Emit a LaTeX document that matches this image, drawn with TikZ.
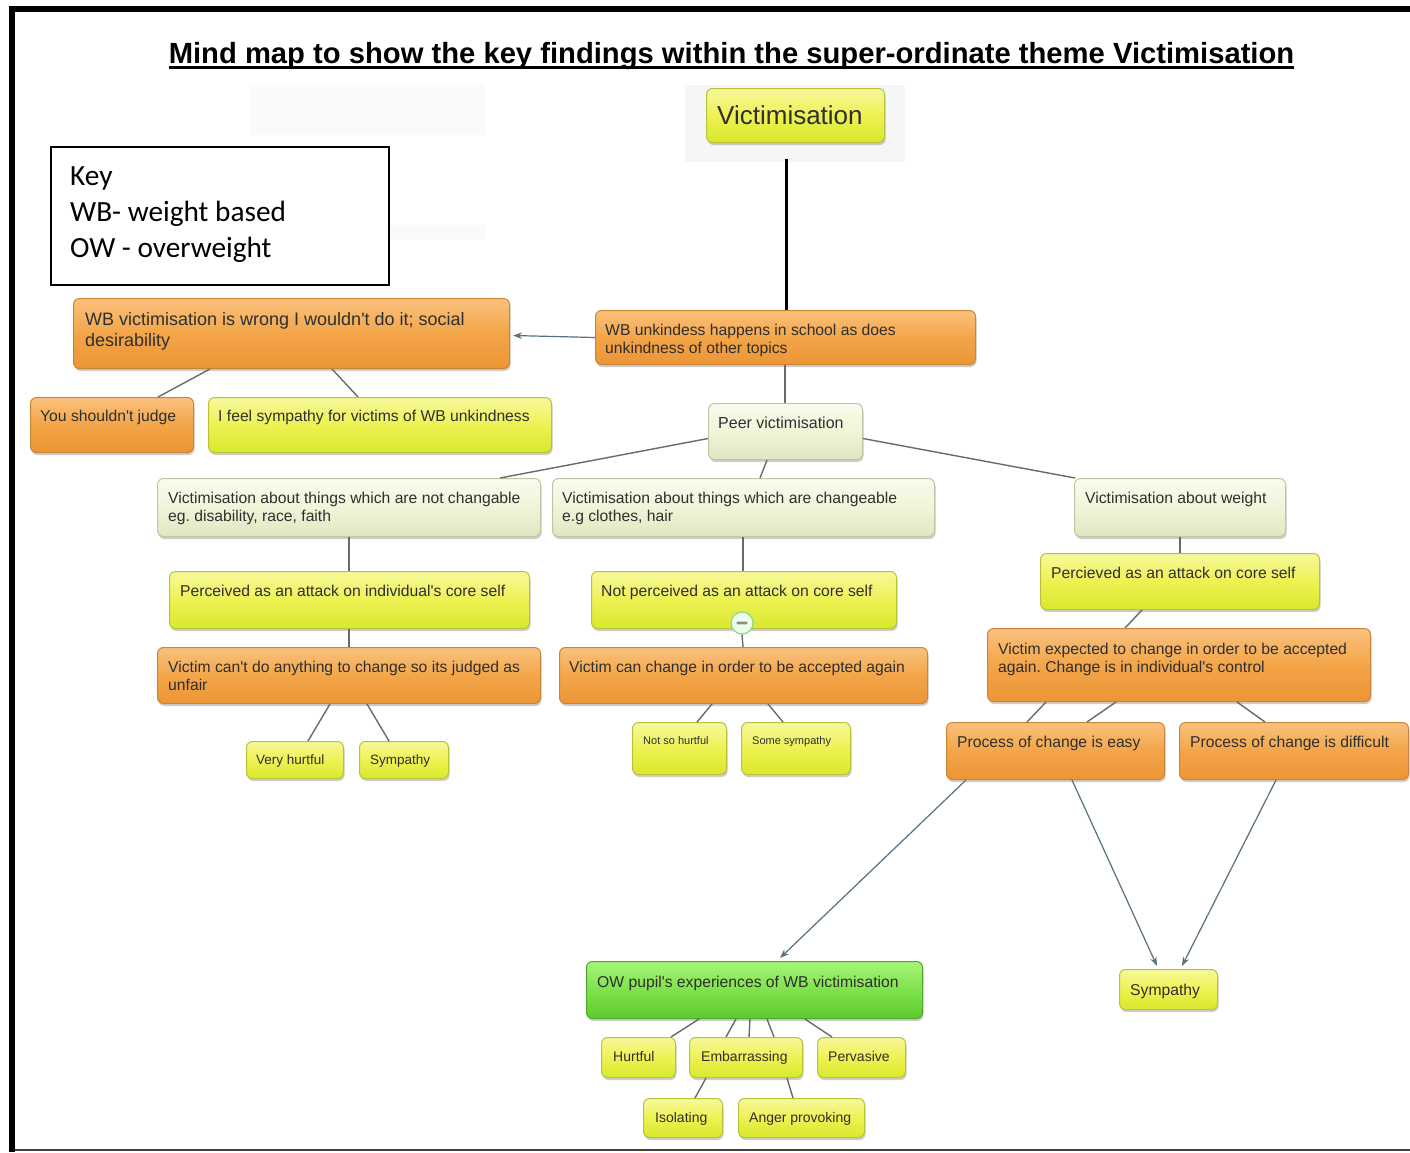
\documentclass[tikz,border=0pt]{standalone}
\usepackage{fontspec}
\setmainfont{Liberation Sans}
\newfontfamily\keyfont{Carlito}
\usetikzlibrary{arrows.meta,shadows}
\frenchspacing

% text sizes used in the boxes
\newcommand\mmfont{\fontsize{15.7}{18}\selectfont}
\newcommand\mmbig{\fontsize{26}{30}\selectfont}
\newcommand\mmlarge{\fontsize{18}{21}\selectfont}
\newcommand\mmsmall{\fontsize{13.5}{16}\selectfont}
\newcommand\mmtiny{\fontsize{11}{13}\selectfont}
\newcommand\mmleaf{\fontsize{14}{16}\selectfont}
\newcommand\ap{\textquotesingle}

\definecolor{textgrey}{HTML}{2F2F2F}
\definecolor{linkgrey}{HTML}{6A6A6A}
\definecolor{arrowblue}{HTML}{56707F}
\definecolor{orTop}{HTML}{FAC27E}
\definecolor{orMid}{HTML}{F3A548}
\definecolor{orBot}{HTML}{EC9536}
\definecolor{orLine}{HTML}{CC8436}
\definecolor{yeTop}{HTML}{F7F89C}
\definecolor{yeMid}{HTML}{EDF252}
\definecolor{yeBot}{HTML}{D8E82C}
\definecolor{yeLine}{HTML}{B8C23A}
\definecolor{paTop}{HTML}{FAFBEE}
\definecolor{paMid}{HTML}{F1F4D8}
\definecolor{paBot}{HTML}{E1E6C0}
\definecolor{paLine}{HTML}{C0C6A2}
\definecolor{grTop}{HTML}{A8F47A}
\definecolor{grMid}{HTML}{7EE24A}
\definecolor{grBot}{HTML}{5CCB2C}
\definecolor{grLine}{HTML}{4FA82A}

\tikzset{
  boxbase/.style={draw, rounded corners=6pt, line width=1pt, inner sep=0pt,
    drop shadow={shadow xshift=1pt, shadow yshift=-2.5pt, opacity=0.28, fill=black!70}},
  orangebox/.style={boxbase, draw=orLine, top color=orTop, bottom color=orBot, middle color=orMid},
  yellowbox/.style={boxbase, draw=yeLine, top color=yeTop, bottom color=yeBot, middle color=yeMid},
  palebox/.style={boxbase, draw=paLine, top color=paTop, bottom color=paBot, middle color=paMid},
  greenbox/.style={boxbase, draw=grLine, top color=grTop, bottom color=grBot, middle color=grMid},
  mmtext/.style={inner sep=0pt, align=left, text=textgrey, font=\mmfont},
  link/.style={draw=linkgrey, line width=1.4pt},
  arrowlink/.style={draw=arrowblue, line width=1.2pt, -{Stealth[length=9pt,width=6.5pt]}},
}

% #1 box style, #2 name, #3 x, #4 y (top left), #5 width, #6 height,
% #7 options of the text node, #8 text
\newcommand\mmbox[8]{%
  \node[#1, anchor=north west, minimum width=#5pt, minimum height=#6pt] (#2) at (#3,#4) {};
  \node[mmtext, anchor=north west, #7] (#2-t) at (#2.north west) {#8};
}

\begin{document}
\begin{tikzpicture}[x=1pt,y=-1pt]
\useasboundingbox (0,0) rectangle (1410,1152);
\fill[white] (0,0) rectangle (1410,1152);

% page frame
\fill[black] (9,6) rectangle (1410,12);
\fill[black] (9,6) rectangle (15,1152);
\fill[black!75] (15,1149) rectangle (1410,1151);

% faint backing patches
\fill[black!2] (250,85) rectangle (485,135);
\fill[black!2] (390,225) rectangle (485,240);
\fill[black!3.5] (685,85) rectangle (905,162);

% title
\node[inner sep=0pt, anchor=base, font=\bfseries\fontsize{29.2}{34}\selectfont] (title) at (731.5,63)
  {Mind map to show the key findings within the super-ordinate theme Victimisation};
\draw[line width=2.8pt] ([yshift=-4.3pt]title.base west) -- ([yshift=-4.3pt]title.base east);

% key
\node[draw=black, line width=2pt, anchor=north west, minimum width=338pt, minimum height=138pt, inner sep=0pt] (key) at (50,146) {};
\node[inner sep=0pt, anchor=north west, align=left, font=\keyfont\fontsize{29.3}{36}\selectfont] (key-t) at (70,166.5)
  {Key\\WB- weight based\\OW - overweight};

% boxes
\mmbox{yellowbox}{vict}{706}{88}{178}{54}{xshift=11pt,yshift=-17.4pt,font=\mmbig}{Victimisation}
\mmbox{orangebox}{wbunk}{595}{310}{380}{54}{xshift=10pt,yshift=-14.3pt}{WB unkindess happens in school as does\\unkindness of other topics}
\mmbox{orangebox}{wbvic}{73}{298}{436}{70}{xshift=12pt,yshift=-14.3pt,font=\mmlarge}{WB victimisation is wrong I wouldn\ap t do it; social\\desirability}
\mmbox{orangebox}{judge}{30}{397}{163}{55}{xshift=10pt,yshift=-13.3pt}{You shouldn\ap t judge}
\mmbox{yellowbox}{feel}{208}{397}{343}{55}{xshift=10pt,yshift=-13.3pt}{I feel sympathy for victims of WB unkindness}
\mmbox{palebox}{peer}{708}{403}{154}{56}{xshift=10pt,yshift=-14pt,font=\fontsize{16}{18}\selectfont}{Peer victimisation}
\mmbox{palebox}{notch}{157}{478}{383}{58}{xshift=11pt,yshift=-14.3pt}{Victimisation about things which are not changable\\eg. disability, race, faith}
\mmbox{palebox}{chg}{552}{478}{382}{58}{xshift=10pt,yshift=-14.3pt}{Victimisation about things which are changeable\\e.g clothes, hair}
\mmbox{palebox}{weight}{1074}{478}{211}{58}{xshift=11pt,yshift=-14.3pt}{Victimisation about weight}
\mmbox{yellowbox}{attind}{169}{571}{360}{57}{xshift=11pt,yshift=-14.3pt}{Perceived as an attack on individual\ap s core self}
\mmbox{yellowbox}{notatt}{591}{571}{305}{57}{xshift=10pt,yshift=-14.3pt}{Not perceived as an attack on core self}
\mmbox{yellowbox}{attcore}{1040}{553}{279}{56}{xshift=11pt,yshift=-14.3pt}{Percieved as an attack on core self}
\mmbox{orangebox}{cant}{157}{647}{383}{56}{xshift=11pt,yshift=-14.3pt}{Victim can\ap t do anything to change so its judged as\\unfair}
\mmbox{orangebox}{can}{559}{647}{368}{56}{xshift=10pt,yshift=-14.3pt}{Victim can change in order to be accepted again}
\mmbox{orangebox}{expect}{987}{628}{383}{73}{xshift=11pt,yshift=-15.3pt}{Victim expected to change in order to be accepted\\again. Change is in individual\ap s control}
\mmbox{yellowbox}{veryh}{246}{741}{97}{37}{xshift=10pt,yshift=-14pt,font=\mmsmall}{Very hurtful}
\mmbox{yellowbox}{symp1}{359}{741}{89}{37}{xshift=11pt,yshift=-14pt,font=\mmsmall}{Sympathy}
\mmbox{yellowbox}{notso}{632}{722}{94}{52}{xshift=11pt,yshift=-14pt,font=\mmtiny}{Not so hurtful}
\mmbox{yellowbox}{somes}{741}{722}{109}{52}{xshift=11pt,yshift=-14pt,font=\mmtiny}{Some sympathy}
\mmbox{orangebox}{easy}{946}{722}{218}{57}{xshift=11pt,yshift=-14.3pt}{Process of change is easy}
\mmbox{orangebox}{diff}{1179}{722}{229}{57}{xshift=11pt,yshift=-14.3pt}{Process of change is difficult}
\mmbox{greenbox}{ow}{586}{961}{336}{57}{xshift=11pt,yshift=-15.3pt}{OW pupil\ap s experiences of WB victimisation}
\mmbox{yellowbox}{symp2}{1119}{969}{98}{40}{xshift=11pt,yshift=-15.3pt}{Sympathy}
\mmbox{yellowbox}{hurtful}{601}{1037}{74}{40}{xshift=12pt,yshift=-13.8pt,font=\mmleaf}{Hurtful}
\mmbox{yellowbox}{embar}{689}{1037}{113}{40}{xshift=12pt,yshift=-13.8pt,font=\mmleaf}{Embarrassing}
\mmbox{yellowbox}{perv}{817}{1037}{88}{40}{xshift=11pt,yshift=-13.8pt,font=\mmleaf}{Pervasive}
\mmbox{yellowbox}{isol}{643}{1098}{79}{39}{xshift=12pt,yshift=-13.8pt,font=\mmleaf}{Isolating}
\mmbox{yellowbox}{anger}{738}{1098}{126}{39}{xshift=11pt,yshift=-13.8pt,font=\mmleaf}{Anger provoking}

% fold marker on the lower edge of the box above
\node[circle, draw=green!45!gray!60, fill=white!92!green, line width=1.2pt, minimum size=22pt, inner sep=0pt]
  (fold) at ([xshift=151pt,yshift=6pt]notatt.south west) {};
\fill[black!45, rounded corners=1pt] ([xshift=-5.5pt,yshift=-1.4pt]fold.center) rectangle ([xshift=5.5pt,yshift=1.4pt]fold.center);

% connectors
\draw[line width=3pt, black] ([xshift=80pt,yshift=-16pt]vict.south west) -- ([xshift=191pt]wbunk.north west);
\draw[arrowlink] (wbunk.west) -- ([xshift=3pt,yshift=-2pt]wbvic.east);
\draw[link] ([xshift=137pt]wbvic.south west) -- ([xshift=128pt]judge.north west);
\draw[link] ([xshift=259pt]wbvic.south west) -- ([xshift=150pt]feel.north west);
\draw[link] ([xshift=190pt]wbunk.south west) -- ([xshift=77pt]peer.north west);
\draw[link] ([yshift=-7pt]peer.west) -- ([xshift=343pt]notch.north west);
\draw[link] ([xshift=59pt]peer.south west) -- ([xshift=208pt]chg.north west);
\draw[link] ([yshift=-7pt]peer.east) -- ([xshift=1pt]weight.north west);
\draw[link] ([xshift=192pt]notch.south west) -- ([xshift=180pt]attind.north west);
\draw[link] ([xshift=191pt]chg.south west) -- ([xshift=152pt]notatt.north west);
\draw[link] ([xshift=106pt]weight.south west) -- ([xshift=140pt]attcore.north west);
\draw[link] ([xshift=180pt]attind.south west) -- ([xshift=192pt]cant.north west);
\draw[link] (fold.south) -- ([xshift=184pt]can.north west);
\draw[link] ([xshift=102pt]attcore.south west) -- ([xshift=138pt]expect.north west);
\draw[link] ([xshift=173pt]cant.south west) -- ([xshift=62pt]veryh.north west);
\draw[link] ([xshift=210pt]cant.south west) -- ([xshift=30pt]symp1.north west);
\draw[link] ([xshift=153pt]can.south west) -- ([xshift=65pt]notso.north west);
\draw[link] ([xshift=209pt]can.south west) -- ([xshift=42pt]somes.north west);
\draw[link] ([xshift=59pt]expect.south west) -- ([xshift=81pt]easy.north west);
\draw[link] ([xshift=129pt]expect.south west) -- ([xshift=141pt]easy.north west);
\draw[link] ([xshift=250pt]expect.south west) -- ([xshift=86pt]diff.north west);
\draw[arrowlink] ([xshift=20pt]easy.south west) -- ([xshift=194pt,yshift=3pt]ow.north west);
\draw[arrowlink] ([xshift=126pt]easy.south west) -- ([xshift=38pt,yshift=3pt]symp2.north west);
\draw[arrowlink] ([xshift=97pt]diff.south west) -- ([xshift=63pt,yshift=3pt]symp2.north west);
\draw[link] ([xshift=113pt]ow.south west) -- ([xshift=70pt]hurtful.north west);
\draw[link] ([xshift=150pt]ow.south west) -- ([xshift=37pt]embar.north west);
\draw[link] ([xshift=164pt]ow.south west) -- ([xshift=60pt]embar.north west);
\draw[link] ([xshift=181pt]ow.south west) -- ([xshift=85pt]embar.north west);
\draw[link] ([xshift=219pt]ow.south west) -- ([xshift=15pt]perv.north west);
\draw[link] ([xshift=17pt]embar.south west) -- ([xshift=52pt]isol.north west);
\draw[link] ([xshift=98pt]embar.south west) -- ([xshift=55pt]anger.north west);
\end{tikzpicture}
\end{document}
